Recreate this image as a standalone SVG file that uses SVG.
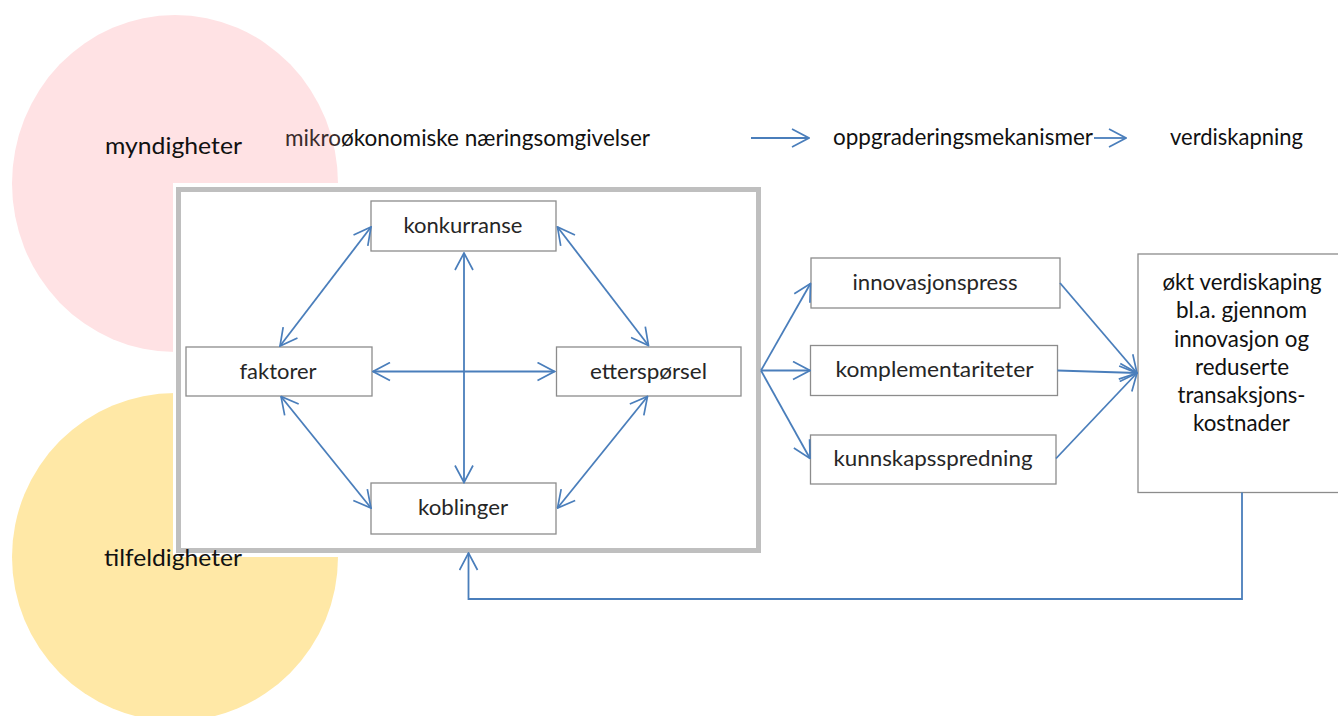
<svg xmlns="http://www.w3.org/2000/svg" width="1338" height="716" viewBox="0 0 1338 716">
<defs>
<style>
.t{font-family:Lato,"Liberation Sans",sans-serif;fill:#111;}
.lab{font-size:24px;}
.nt{font-size:22px;fill:#262626;text-anchor:middle;}
.bt{font-size:23px;fill:#111;text-anchor:middle;}
.nb{fill:#fff;stroke:#8c8c8c;stroke-width:1.3;}
.c{fill:none;stroke:#4A7EBB;stroke-width:1.8;}
</style>
<marker id="ah" viewBox="0 0 20 20" refX="19" refY="10" markerWidth="20" markerHeight="20" markerUnits="userSpaceOnUse" orient="auto-start-reverse">
<path d="M2,1 L19,10 L2,19" fill="none" stroke="#4A7EBB" stroke-width="1.7"/>
</marker>
</defs>
<rect x="0" y="0" width="1338" height="716" fill="#fff"/>
<g id="myndigheter">
<ellipse cx="175" cy="183.5" rx="163" ry="168.5" fill="#FFE2E4"/>
<text class="t lab" x="105" y="154" textLength="137" lengthAdjust="spacingAndGlyphs">myndigheter</text>
</g>
<g id="tilfeldigheter-circle">
<ellipse cx="175" cy="557" rx="163" ry="164" fill="#FFE8A6"/>
</g>
<g id="frame">
<rect x="173" y="183" width="591" height="374" fill="#fff"/>
<rect x="178.5" y="189.5" width="580" height="361" fill="#fff" stroke="#BFBFBF" stroke-width="5"/>
</g>
<g id="tilfeldigheter">
<text class="t lab" x="104" y="566" textLength="138" lengthAdjust="spacingAndGlyphs">tilfeldigheter</text>
</g>
<g id="header">
<text class="t lab" x="285" y="146" textLength="365" lengthAdjust="spacingAndGlyphs"><tspan fill="#3a2c2c">mikro</tspan>økonomiske næringsomgivelser</text>
<text class="t lab" x="833" y="145" textLength="260" lengthAdjust="spacingAndGlyphs">oppgraderingsmekanismer</text>
<text class="t lab" x="1170" y="145" textLength="133" lengthAdjust="spacingAndGlyphs">verdiskapning</text>
</g>
<g id="konkurranse">
<rect class="nb" x="371" y="201" width="185" height="50"/>
<text class="t nt" x="463" y="233" textLength="119" lengthAdjust="spacingAndGlyphs">konkurranse</text>
</g>
<g id="faktorer">
<rect class="nb" x="186" y="347" width="186" height="49"/>
<text class="t nt" x="278" y="379" textLength="77" lengthAdjust="spacingAndGlyphs">faktorer</text>
</g>
<g id="ettersporsel">
<rect class="nb" x="556.5" y="347" width="184.5" height="49"/>
<text class="t nt" x="648.5" y="379" textLength="117" lengthAdjust="spacingAndGlyphs">etterspørsel</text>
</g>
<g id="koblinger">
<rect class="nb" x="371" y="483" width="185" height="51"/>
<text class="t nt" x="463" y="515" textLength="90" lengthAdjust="spacingAndGlyphs">koblinger</text>
</g>
<g id="innovasjonspress">
<rect class="nb" x="811" y="258" width="249" height="50"/>
<text class="t nt" x="935" y="290" textLength="165" lengthAdjust="spacingAndGlyphs" fill="#111">innovasjonspress</text>
</g>
<g id="komplementariteter">
<rect class="nb" x="810.5" y="345.5" width="247" height="50"/>
<text class="t nt" x="934.5" y="377" textLength="198" lengthAdjust="spacingAndGlyphs">komplementariteter</text>
</g>
<g id="kunnskapsspredning">
<rect class="nb" x="810.5" y="435" width="245.5" height="49"/>
<text class="t nt" x="933" y="466" textLength="199" lengthAdjust="spacingAndGlyphs">kunnskapsspredning</text>
</g>
<g id="verdiskaping">
<rect class="nb" x="1138" y="254" width="205" height="238.5"/>
<text class="t bt" x="1242" y="290" textLength="159" lengthAdjust="spacingAndGlyphs">økt verdiskaping</text>
<text class="t bt" x="1241.5" y="318" textLength="131" lengthAdjust="spacingAndGlyphs">bl.a. gjennom</text>
<text class="t bt" x="1241.5" y="347" textLength="135" lengthAdjust="spacingAndGlyphs">innovasjon og</text>
<text class="t bt" x="1242" y="375" textLength="94" lengthAdjust="spacingAndGlyphs">reduserte</text>
<text class="t bt" x="1241.5" y="403" textLength="128" lengthAdjust="spacingAndGlyphs">transaksjons-</text>
<text class="t bt" x="1241.5" y="431" textLength="97" lengthAdjust="spacingAndGlyphs">kostnader</text>
</g>
<g id="connectors">
<line class="c" x1="751" y1="138" x2="809" y2="138" marker-end="url(#ah)"/>
<line class="c" x1="1094" y1="138" x2="1126" y2="138" marker-end="url(#ah)"/>
<line class="c" x1="464" y1="253" x2="464" y2="482.5" marker-start="url(#ah)" marker-end="url(#ah)"/>
<line class="c" x1="373" y1="371.5" x2="554.5" y2="371.5" marker-start="url(#ah)" marker-end="url(#ah)"/>
<line class="c" x1="371" y1="227" x2="280" y2="346" marker-start="url(#ah)" marker-end="url(#ah)"/>
<line class="c" x1="557.5" y1="227" x2="648.5" y2="345.5" marker-start="url(#ah)" marker-end="url(#ah)"/>
<line class="c" x1="281" y1="396.5" x2="371" y2="508" marker-start="url(#ah)" marker-end="url(#ah)"/>
<line class="c" x1="647.5" y1="396.5" x2="557.5" y2="508" marker-start="url(#ah)" marker-end="url(#ah)"/>
<line class="c" x1="761" y1="370.5" x2="810.5" y2="283.5" marker-end="url(#ah)"/>
<line class="c" x1="761" y1="370.5" x2="810" y2="370.5" marker-end="url(#ah)"/>
<line class="c" x1="761" y1="370.5" x2="810" y2="458.5" marker-end="url(#ah)"/>
<line class="c" x1="1060" y1="283" x2="1137" y2="373" marker-end="url(#ah)"/>
<line class="c" x1="1057.5" y1="370.5" x2="1137" y2="373" marker-end="url(#ah)"/>
<line class="c" x1="1056" y1="458.5" x2="1137" y2="373" marker-end="url(#ah)"/>
<path class="c" d="M1242,492.5 V599 H468.5 V553" marker-end="url(#ah)"/>
</g>
</svg>
